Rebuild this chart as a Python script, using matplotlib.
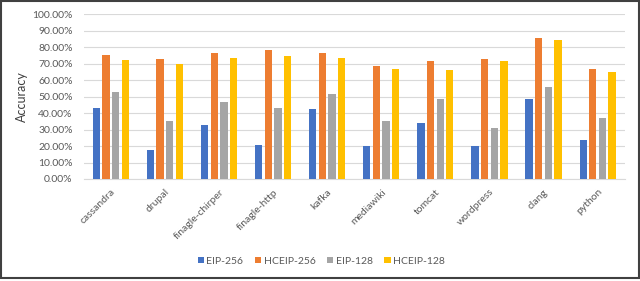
import matplotlib
matplotlib.use("Agg")
import matplotlib.pyplot as plt
from matplotlib.patches import Rectangle
from matplotlib.ticker import FuncFormatter
import numpy as np

plt.rcParams['font.family'] = ['Lato', 'DejaVu Sans']

projects = ["cassandra", "drupal", "finagle-chirper", "finagle-http", "kafka",
            "mediawiki", "tomcat", "wordpress", "clang", "python"]
eip_256 = [43.2, 17.4, 32.5, 20.8, 42.2, 20.0, 33.7, 20.0, 48.3, 23.8]
hceip_256 = [75.2, 72.5, 76.4, 78.0, 76.2, 68.5, 71.3, 72.9, 85.7, 66.5]
eip_128 = [52.5, 35.0, 46.5, 43.0, 51.7, 35.4, 48.3, 30.9, 55.6, 37.0]
hceip_128 = [72.3, 69.9, 73.3, 74.5, 73.3, 66.7, 66.3, 71.3, 84.0, 64.8]

series = [("EIP-256", eip_256, "#4472C4"),
          ("HCEIP-256", hceip_256, "#ED7D31"),
          ("EIP-128", eip_128, "#A5A5A5"),
          ("HCEIP-128", hceip_128, "#FFC000")]

fig = plt.figure(figsize=(6.4, 2.81), dpi=100)
ax = fig.add_axes([0.131, 0.363, 0.845, 0.587])

x = np.arange(len(projects))
step = 0.178
width = 0.135
for i, (name, vals, color) in enumerate(series):
    ax.bar(x + (i - 1.5) * step, vals, width, color=color, label=name, zorder=3)

ax.set_xlim(-0.5, len(projects) - 0.5)
ax.set_ylim(0, 100)
ax.set_yticks(np.arange(0, 101, 10))
ax.yaxis.set_major_formatter(FuncFormatter(lambda v, p: f"{v:.2f}%"))
ax.grid(axis="y", color="#D9D9D9", linewidth=0.8, zorder=0)
for s in ["top", "right", "left"]:
    ax.spines[s].set_visible(False)
ax.spines["bottom"].set_color("#D9D9D9")
ax.tick_params(axis="y", length=0, labelsize=7.5, colors="#595959", pad=8)
ax.tick_params(axis="x", length=0, labelsize=7.5, colors="#595959", pad=6)
ax.set_xticks(x)
ax.set_xticklabels(projects, rotation=45, ha="right", rotation_mode="anchor")
ax.set_ylabel("Accuracy", fontsize=9, color="#404040", labelpad=3)

fig.legend(*ax.get_legend_handles_labels(), loc="center", bbox_to_anchor=(0.502, 0.071),
           ncol=4, frameon=False, fontsize=7.5, handlelength=0.6, handleheight=0.6,
           columnspacing=1.1, handletextpad=0.25, labelcolor="#595959")

fig.patches.append(Rectangle((0.002, 0.012), 0.996, 0.984, transform=fig.transFigure,
                             fill=False, edgecolor="#404040", linewidth=1.5))

fig.savefig("out.png", dpi=100)
